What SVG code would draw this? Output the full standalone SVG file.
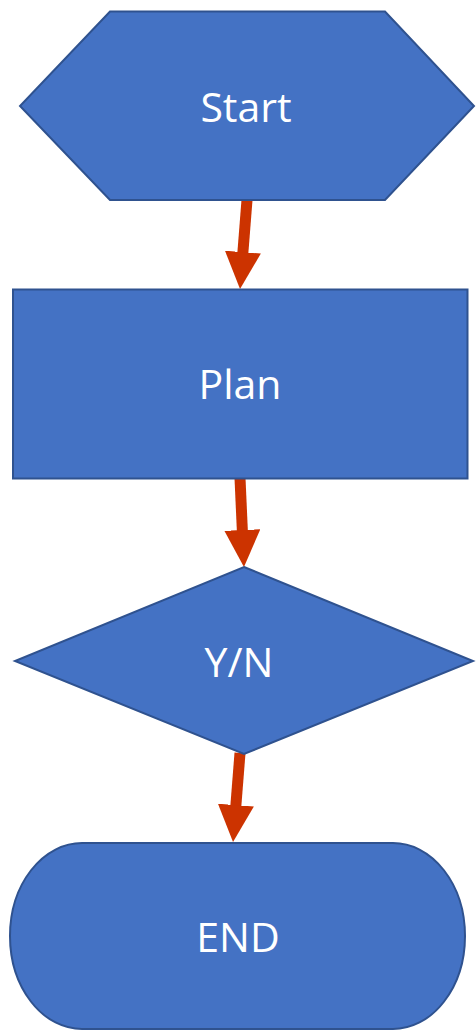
<svg xmlns="http://www.w3.org/2000/svg" width="476" height="1032" viewBox="0 0 476 1032">
  <defs>
    <style>
      .shape { fill: #4472C4; stroke: #2F528F; stroke-width: 2; }
      .label { fill: #FFFFFF; font-family: "Open Sans", "Noto Sans", "Liberation Sans", sans-serif; font-size: 41px; text-anchor: middle; }
      .conn { stroke: #CC3300; stroke-width: 11; fill: none; marker-end: url(#head); }
    </style>
    <marker id="head" markerUnits="userSpaceOnUse" markerWidth="37" markerHeight="36" refX="4" refY="18" orient="auto" viewBox="0 0 37 36">
      <path d="M0,0 L37,18 L0,36 Z" fill="#CC3300"/>
    </marker>
  </defs>
  <rect width="476" height="1032" fill="#FFFFFF"/>
  <g id="connectors">
    <line class="conn" x1="247" y1="200" x2="242.6" y2="256.1"/>
    <line class="conn" x1="240" y1="478" x2="242.5" y2="534"/>
    <line class="conn" x1="240" y1="753" x2="235.6" y2="809.1"/>
  </g>
  <g id="start">
    <polygon class="shape" points="110,11.5 385,11.5 474,106 385,200 110,200 20,106"/>
    <text class="label" x="246" y="122">Start</text>
  </g>
  <g id="plan">
    <rect class="shape" x="13" y="289.5" width="454.5" height="189"/>
    <text class="label" x="240" y="399">Plan</text>
  </g>
  <g id="decision">
    <polygon class="shape" points="244,567 473,661 244,754 15,661"/>
    <text class="label" x="239" y="677">Y/N</text>
  </g>
  <g id="end">
    <rect class="shape" x="10" y="843" width="455" height="186" rx="72" ry="93"/>
    <text class="label" x="238" y="952">END</text>
  </g>
</svg>
